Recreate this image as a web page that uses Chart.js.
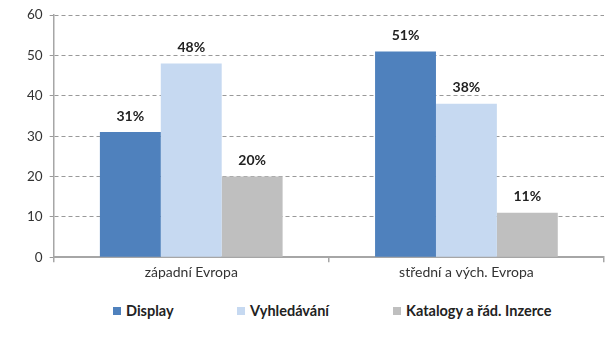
<!DOCTYPE html>
<html>
<head>
<meta charset="utf-8">
<script src="https://cdn.jsdelivr.net/npm/chart.js@4/dist/chart.umd.min.js"></script>
<style>
  body { margin: 0; background: #fff; font-family: Lato, "Open Sans", sans-serif; }
  #wrap { position: relative; width: 614px; height: 338px; }
  #box { position: absolute; left: 0; top: 0; width: 614px; height: 289px; }
  #legend { position: absolute; top: 302px; left: 0; width: 614px; height: 18px; font-weight: bold; font-size: 14.5px; color: #222; }
  #legend span { position: absolute; white-space: nowrap; }
  #legend i { display: inline-block; width: 8px; height: 8px; margin-right: 5px; vertical-align: 1px; }
</style>
</head>
<body>
<div id="wrap">
  <div id="box"><canvas id="c"></canvas></div>
  <div id="legend"></div>
</div>
<script>
const categories = ['západní Evropa', 'střední a vých. Evropa'];
const seriesNames = ['Display', 'Vyhledávání', 'Katalogy a řád. Inzerce'];
const display = [31, 51];
const vyhledavani = [48, 38];
const katalogy = [20, 11];
const colors = ['#4F81BD', '#C6D9F1', '#BFBFBF'];
const legendX = [113, 237, 393];

const valueLabels = {
  id: 'valueLabels',
  afterDatasetsDraw(chart) {
    const ctx = chart.ctx;
    ctx.save();
    ctx.font = 'bold 14px Lato, sans-serif';
    ctx.fillStyle = '#222';
    ctx.textAlign = 'center';
    ctx.textBaseline = 'middle';
    chart.data.datasets.forEach((ds, i) => {
      chart.getDatasetMeta(i).data.forEach((bar, j) => {
        ctx.fillText(ds.data[j] + '%', bar.x, bar.y - 16);
      });
    });
    ctx.restore();
  }
};

new Chart(document.getElementById('c'), {
  type: 'bar',
  data: {
    labels: categories,
    datasets: [
      { label: seriesNames[0], data: display, backgroundColor: colors[0] },
      { label: seriesNames[1], data: vyhledavani, backgroundColor: colors[1] },
      { label: seriesNames[2], data: katalogy, backgroundColor: colors[2] }
    ]
  },
  options: {
    responsive: true,
    maintainAspectRatio: false,
    animation: false,
    layout: { padding: { top: 15, right: 10, left: 20, bottom: 6 } },
    datasets: { bar: { barPercentage: 1, categoryPercentage: 0.664 } },
    plugins: { legend: { display: false }, tooltip: { enabled: false } },
    scales: {
      x: {
        grid: { offset: true, drawOnChartArea: false, tickLength: 5, color: '#A6A6A6', lineWidth: 1.5 },
        border: { color: '#A6A6A6', width: 2 },
        ticks: { color: '#333', font: { family: 'Lato', size: 14 }, padding: 2 }
      },
      y: {
        min: 0, max: 60,
        ticks: { stepSize: 10, color: '#333', font: { family: 'Lato', size: 13.5 }, padding: 7 },
        grid: { color: '#999', tickLength: 4, lineWidth: 1 },
        border: { color: '#A6A6A6', width: 1.5, dash: [4, 3] }
      }
    }
  },
  plugins: [valueLabels]
});

const legend = document.getElementById('legend');
seriesNames.forEach((name, i) => {
  const s = document.createElement('span');
  s.style.left = legendX[i] + 'px';
  s.innerHTML = '<i style="background:' + colors[i] + '"></i>' + name;
  legend.appendChild(s);
});
</script>
</body>
</html>
